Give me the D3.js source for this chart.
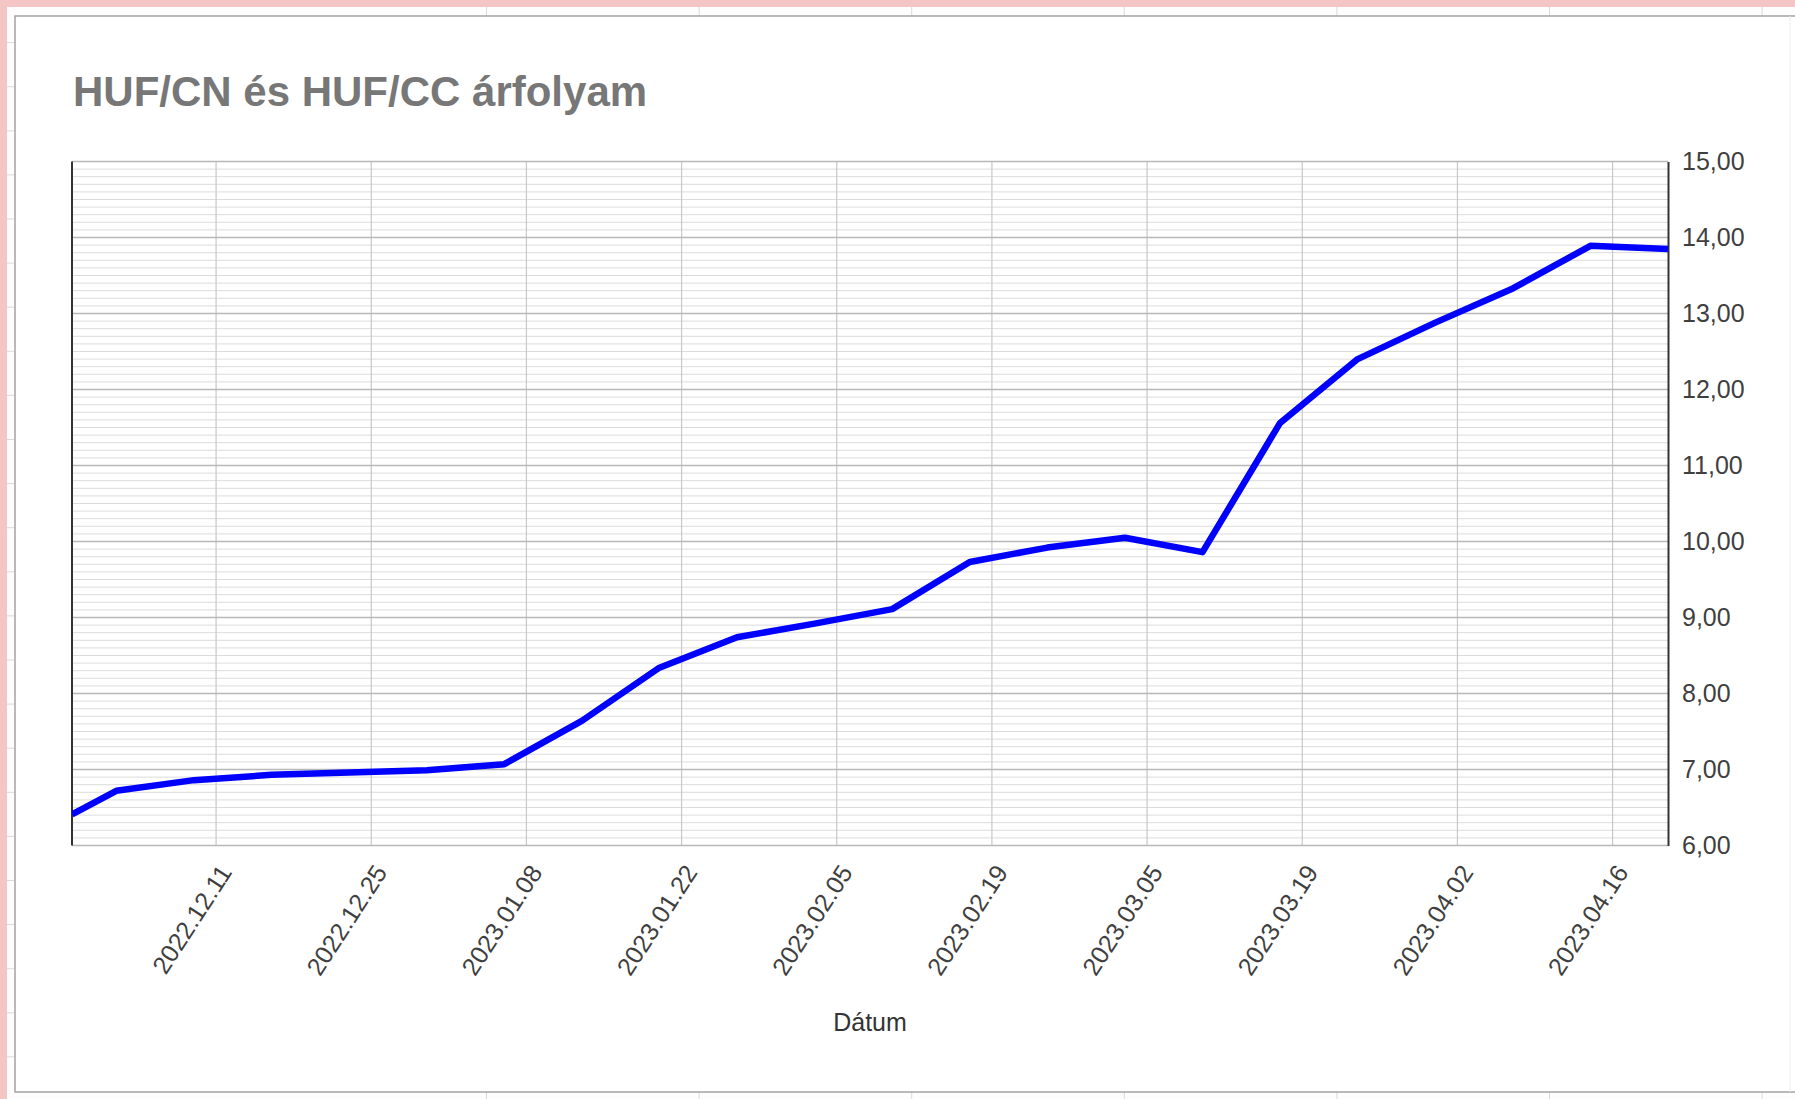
<!DOCTYPE html>
<html>
<head>
<meta charset="utf-8">
<title>HUF/CN és HUF/CC árfolyam</title>
<script src="https://cdn.jsdelivr.net/npm/d3@7"></script>
<style>
    body { margin: 0; background: #fff; }
    svg { display: block; font-family: "Liberation Sans", Arial, sans-serif; }
</style>
</head>
<body>
<svg class="svg-canvas" width="1795" height="1099"></svg>
<script>
/**
 * Weekly dates of the exchange rate (as written on the sheet)
 */
var dates = ['2022.11.28', '2022.12.02', '2022.12.09', '2022.12.16', '2022.12.23', '2022.12.30',
             '2023.01.06', '2023.01.13', '2023.01.20', '2023.01.27', '2023.02.03', '2023.02.10',
             '2023.02.17', '2023.02.24', '2023.03.03', '2023.03.10', '2023.03.17', '2023.03.24',
             '2023.03.31', '2023.04.07', '2023.04.14', '2023.04.21'];
/**
 * HUF/CN rate for every date above
 */
var rates = [6.41, 6.72, 6.86, 6.93, 6.96, 6.99,
             7.07, 7.64, 8.34, 8.74, 8.92, 9.11,
             9.73, 9.92, 10.05, 9.86, 11.56, 12.40,
             12.88, 13.33, 13.89, 13.85];
/**
 * Dates that get a label and a vertical grid line
 */
var tickDates = ['2022.12.11', '2022.12.25', '2023.01.08', '2023.01.22', '2023.02.05',
                 '2023.02.19', '2023.03.05', '2023.03.19', '2023.04.02', '2023.04.16'];
/**
 * Labelled values of the right hand axis
 */
var yTicks = [6, 7, 8, 9, 10, 11, 12, 13, 14, 15];
/**
 * First and last day of the date axis
 */
var xDomain = ['2022.11.28', '2023.04.21'];

var titleText = 'HUF/CN és HUF/CC árfolyam';
var xTitleText = 'Dátum';

/**
 * Size of the canvas and the box the plot sits in
 */
var w = 1795;
var h = 1099;
var plot = {left: 72, right: 1668, top: 161.5, bottom: 845.5};

var parseDate = d3.utcParse('%Y.%m.%d');
var formatDate = d3.utcFormat('%Y.%m.%d');
//hungarian number format: decimal comma
var huLocale = d3.formatLocale({decimal: ',', thousands: ' ', grouping: [3], currency: ['', ' Ft']});
var formatRate = huLocale.format('.2f');

var x = d3.scaleUtc()
    .domain(xDomain.map(parseDate))
    .range([plot.left, plot.right]);

var y = d3.scaleLinear()
    .domain([d3.min(yTicks), d3.max(yTicks)])
    .range([plot.bottom, plot.top]);

var svg = d3.select('.svg-canvas');

//spreadsheet behind the chart: pink frame and cell borders
svg.append('rect').attr('width', w).attr('height', h).attr('fill', '#f3c5c5');
svg.append('rect').attr('x', 7).attr('y', 7).attr('width', w - 7).attr('height', h - 7).attr('fill', '#fdfdfd');

var sheet = svg.append('g').attr('stroke', '#dadada').attr('stroke-width', 1);
d3.range(486.5, w, 212.6).forEach(function(cx){
    sheet.append('line').attr('x1', cx).attr('x2', cx).attr('y1', 7).attr('y2', 16);
    sheet.append('line').attr('x1', cx).attr('x2', cx).attr('y1', 1092).attr('y2', h);
});
d3.range(42.6, h, 44.1).forEach(function(cy){
    sheet.append('line').attr('x1', 7).attr('x2', 15).attr('y1', cy).attr('y2', cy);
});

//the chart object itself (its right edge runs off the screenshot)
svg.append('rect')
    .attr('x', 15).attr('y', 16)
    .attr('width', 1800).attr('height', 1076)
    .attr('fill', '#ffffff')
    .attr('stroke', '#a3a3a3')
    .attr('stroke-width', 1.5);
svg.append('line')
    .attr('x1', 1790).attr('x2', 1790).attr('y1', 16).attr('y2', 1092)
    .attr('stroke', '#eeeeee');

//title
svg.append('text')
    .attr('x', 73)
    .attr('y', 106)
    .attr('font-size', 42)
    .attr('font-weight', 'bold')
    .attr('fill', '#777777')
    .text(titleText);

//minor horizontal grid, every 0.1
var minorValues = d3.range(d3.min(yTicks) * 10, d3.max(yTicks) * 10)
    .filter(function(v){ return v % 10 != 0; })
    .map(function(v){ return v / 10; });

var gridHolder = svg.append('g').classed('grid-holder', true);

gridHolder.selectAll('line.minor')
    .data(minorValues)
    .enter()
    .append('line')
    .classed('minor', true)
    .attr('x1', plot.left).attr('x2', plot.right)
    .attr('y1', function(d){ return y(d); })
    .attr('y2', function(d){ return y(d); })
    .attr('stroke', '#dcdcdc')
    .attr('stroke-width', 1);

//vertical grid at the date ticks
gridHolder.selectAll('line.vert')
    .data(tickDates)
    .enter()
    .append('line')
    .classed('vert', true)
    .attr('x1', function(d){ return x(parseDate(d)); })
    .attr('x2', function(d){ return x(parseDate(d)); })
    .attr('y1', plot.top).attr('y2', plot.bottom)
    .attr('stroke', '#c8c8c8')
    .attr('stroke-width', 1.2);

//major horizontal grid
gridHolder.selectAll('line.major')
    .data(yTicks)
    .enter()
    .append('line')
    .classed('major', true)
    .attr('x1', plot.left).attr('x2', plot.right)
    .attr('y1', function(d){ return y(d); })
    .attr('y2', function(d){ return y(d); })
    .attr('stroke', '#b8b8b8')
    .attr('stroke-width', 1.5);

//left axis line
svg.append('line')
    .attr('x1', plot.left).attr('x2', plot.left)
    .attr('y1', plot.top).attr('y2', plot.bottom)
    .attr('stroke', '#333').attr('stroke-width', 2);

//right axis with its labels, drawn by d3.axisRight
var yAxis = svg.append('g')
    .attr('transform', 'translate(' + plot.right + ',0)')
    .call(d3.axisRight(y).tickValues(yTicks).tickFormat(formatRate).tickSize(0).tickPadding(14));
yAxis.select('.domain').attr('stroke', '#333').attr('stroke-width', 2);
yAxis.selectAll('text')
    .attr('font-size', 25)
    .attr('font-family', '"Liberation Sans", Arial, sans-serif')
    .attr('fill', '#3f3f3f');

//bottom axis, labels only, rotated
var xAxis = svg.append('g')
    .attr('transform', 'translate(0,' + plot.bottom + ')')
    .call(d3.axisBottom(x).tickValues(tickDates.map(parseDate)).tickFormat(formatDate).tickSize(0));
xAxis.select('.domain').remove();
xAxis.selectAll('text')
    .attr('font-size', 25)
    .attr('font-family', '"Liberation Sans", Arial, sans-serif')
    .attr('fill', '#3f3f3f')
    .attr('text-anchor', 'end')
    .attr('y', 0)
    .attr('dy', '0.35em')
    .attr('transform', 'translate(9,22) rotate(-57)');

//axis title
svg.append('text')
    .attr('x', (plot.left + plot.right) / 2)
    .attr('y', 1031)
    .attr('text-anchor', 'middle')
    .attr('font-size', 25)
    .attr('fill', '#333')
    .text(xTitleText);

//the rate line, kept inside the plot box
svg.append('clipPath').attr('id', 'plot-clip')
    .append('rect')
    .attr('x', plot.left).attr('y', plot.top)
    .attr('width', plot.right - plot.left)
    .attr('height', plot.bottom - plot.top);

var line = d3.line()
    .x(function(d, i){ return x(parseDate(dates[i])); })
    .y(function(d){ return y(d); });

svg.append('path')
    .datum(rates)
    .attr('clip-path', 'url(#plot-clip)')
    .attr('fill', 'none')
    .attr('stroke', '#0000ff')
    .attr('stroke-width', 6.5)
    .attr('stroke-linejoin', 'round')
    .attr('d', line);
</script>
</body>
</html>
